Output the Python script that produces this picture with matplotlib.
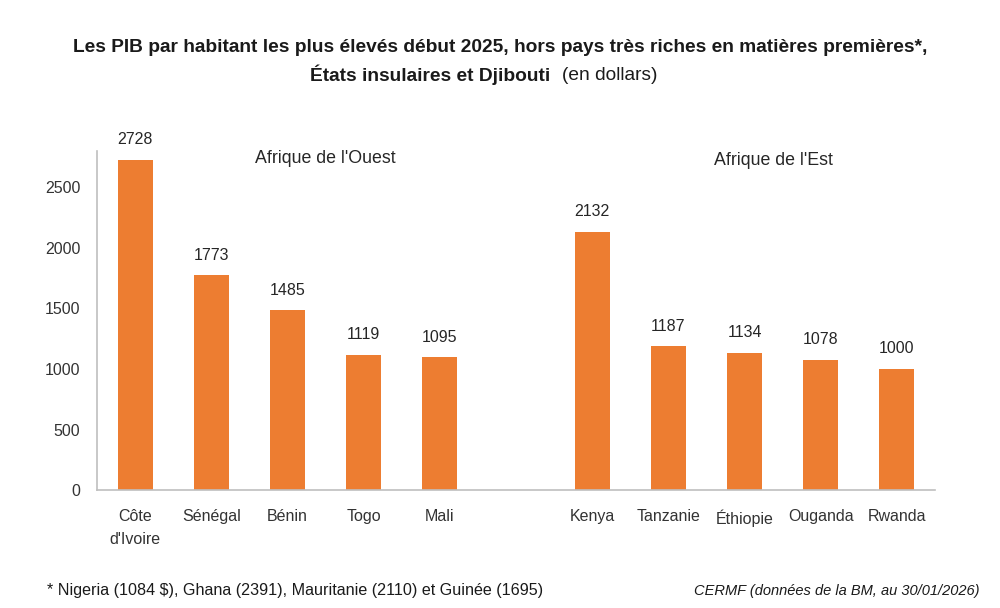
import numpy as np
import matplotlib.pyplot as plt

plt.rcParams['font.family'] = ['Liberation Sans', 'DejaVu Sans']

# data
west = ['Côte\nd\'Ivoire', 'Sénégal', 'Bénin', 'Togo', 'Mali']
west_vals = [2728, 1773, 1485, 1119, 1095]
east = ['Kenya', 'Tanzanie', 'Éthiopie', 'Ouganda', 'Rwanda']
east_vals = [2132, 1187, 1134, 1078, 1000]
yticks = [0, 500, 1000, 1500, 2000, 2500]

orange = '#ED7D31'
txt = '#333333'

fig = plt.figure(figsize=(10, 6.08), dpi=100)
ax = fig.add_axes([0.097, 0.194, 0.838, 0.5576])

x_west = np.arange(len(west))
x_east = np.arange(len(east)) + len(west) + 1  # one empty slot between groups
bars1 = ax.bar(x_west, west_vals, 0.46, color=orange)
bars2 = ax.bar(x_east, east_vals, 0.46, color=orange)

ax.set_xlim(-0.5, x_east[-1] + 0.5)
ax.set_ylim(0, 2800)
ax.set_yticks(yticks)
ax.set_xticks(list(x_west) + list(x_east))
ax.set_xticklabels(west + east, fontsize=11.5, color=txt, linespacing=1.6)
ax.tick_params(axis='y', labelsize=11.5, labelcolor=txt, length=0, pad=12)
ax.tick_params(axis='x', length=0, pad=14)
for s in ['top', 'right']:
    ax.spines[s].set_visible(False)
for s in ['left', 'bottom']:
    ax.spines[s].set_color('#BFBFBF')
    ax.spines[s].set_linewidth(1.2)

def autolabel(rects):
    for rect in rects:
        h = rect.get_height()
        ax.annotate('%d' % h, (rect.get_x() + rect.get_width() / 2., h),
                    xytext=(0, 9), textcoords='offset points',
                    ha='center', va='bottom', fontsize=11.5, color='#262626')

autolabel(bars1)
autolabel(bars2)

ax.text(2.5, 2739, "Afrique de l'Ouest", ha='center', va='center', fontsize=12.8, color='#262626')
ax.text(8.38, 2720, "Afrique de l'Est", ha='center', va='center', fontsize=12.8, color='#262626')

fig.text(0.5, 1 - 48 / 608., 'Les PIB par habitant les plus élevés début 2025, hors pays très riches en matières premières*,',
         ha='center', va='center', fontsize=13.8, fontweight='bold', color='#1a1a1a')
fig.text(0.550, 1 - 75 / 608., 'États insulaires et Djibouti',
         ha='right', va='center', fontsize=13.8, fontweight='bold', color='#1a1a1a')
fig.text(0.562, 1 - 75 / 608., '(en dollars)',
         ha='left', va='center', fontsize=13.8, color='#1a1a1a')

fig.text(0.047, 1 - 591 / 608., '* Nigeria (1084 $), Ghana (2391), Mauritanie (2110) et Guinée (1695)',
         ha='left', va='center', fontsize=11.6, color='#1a1a1a')
fig.text(0.98, 1 - 591 / 608., 'CERMF (données de la BM, au 30/01/2026)',
         ha='right', va='center', fontsize=10.5, style='italic', color='#1a1a1a')

fig.savefig('out.png', dpi=100)
